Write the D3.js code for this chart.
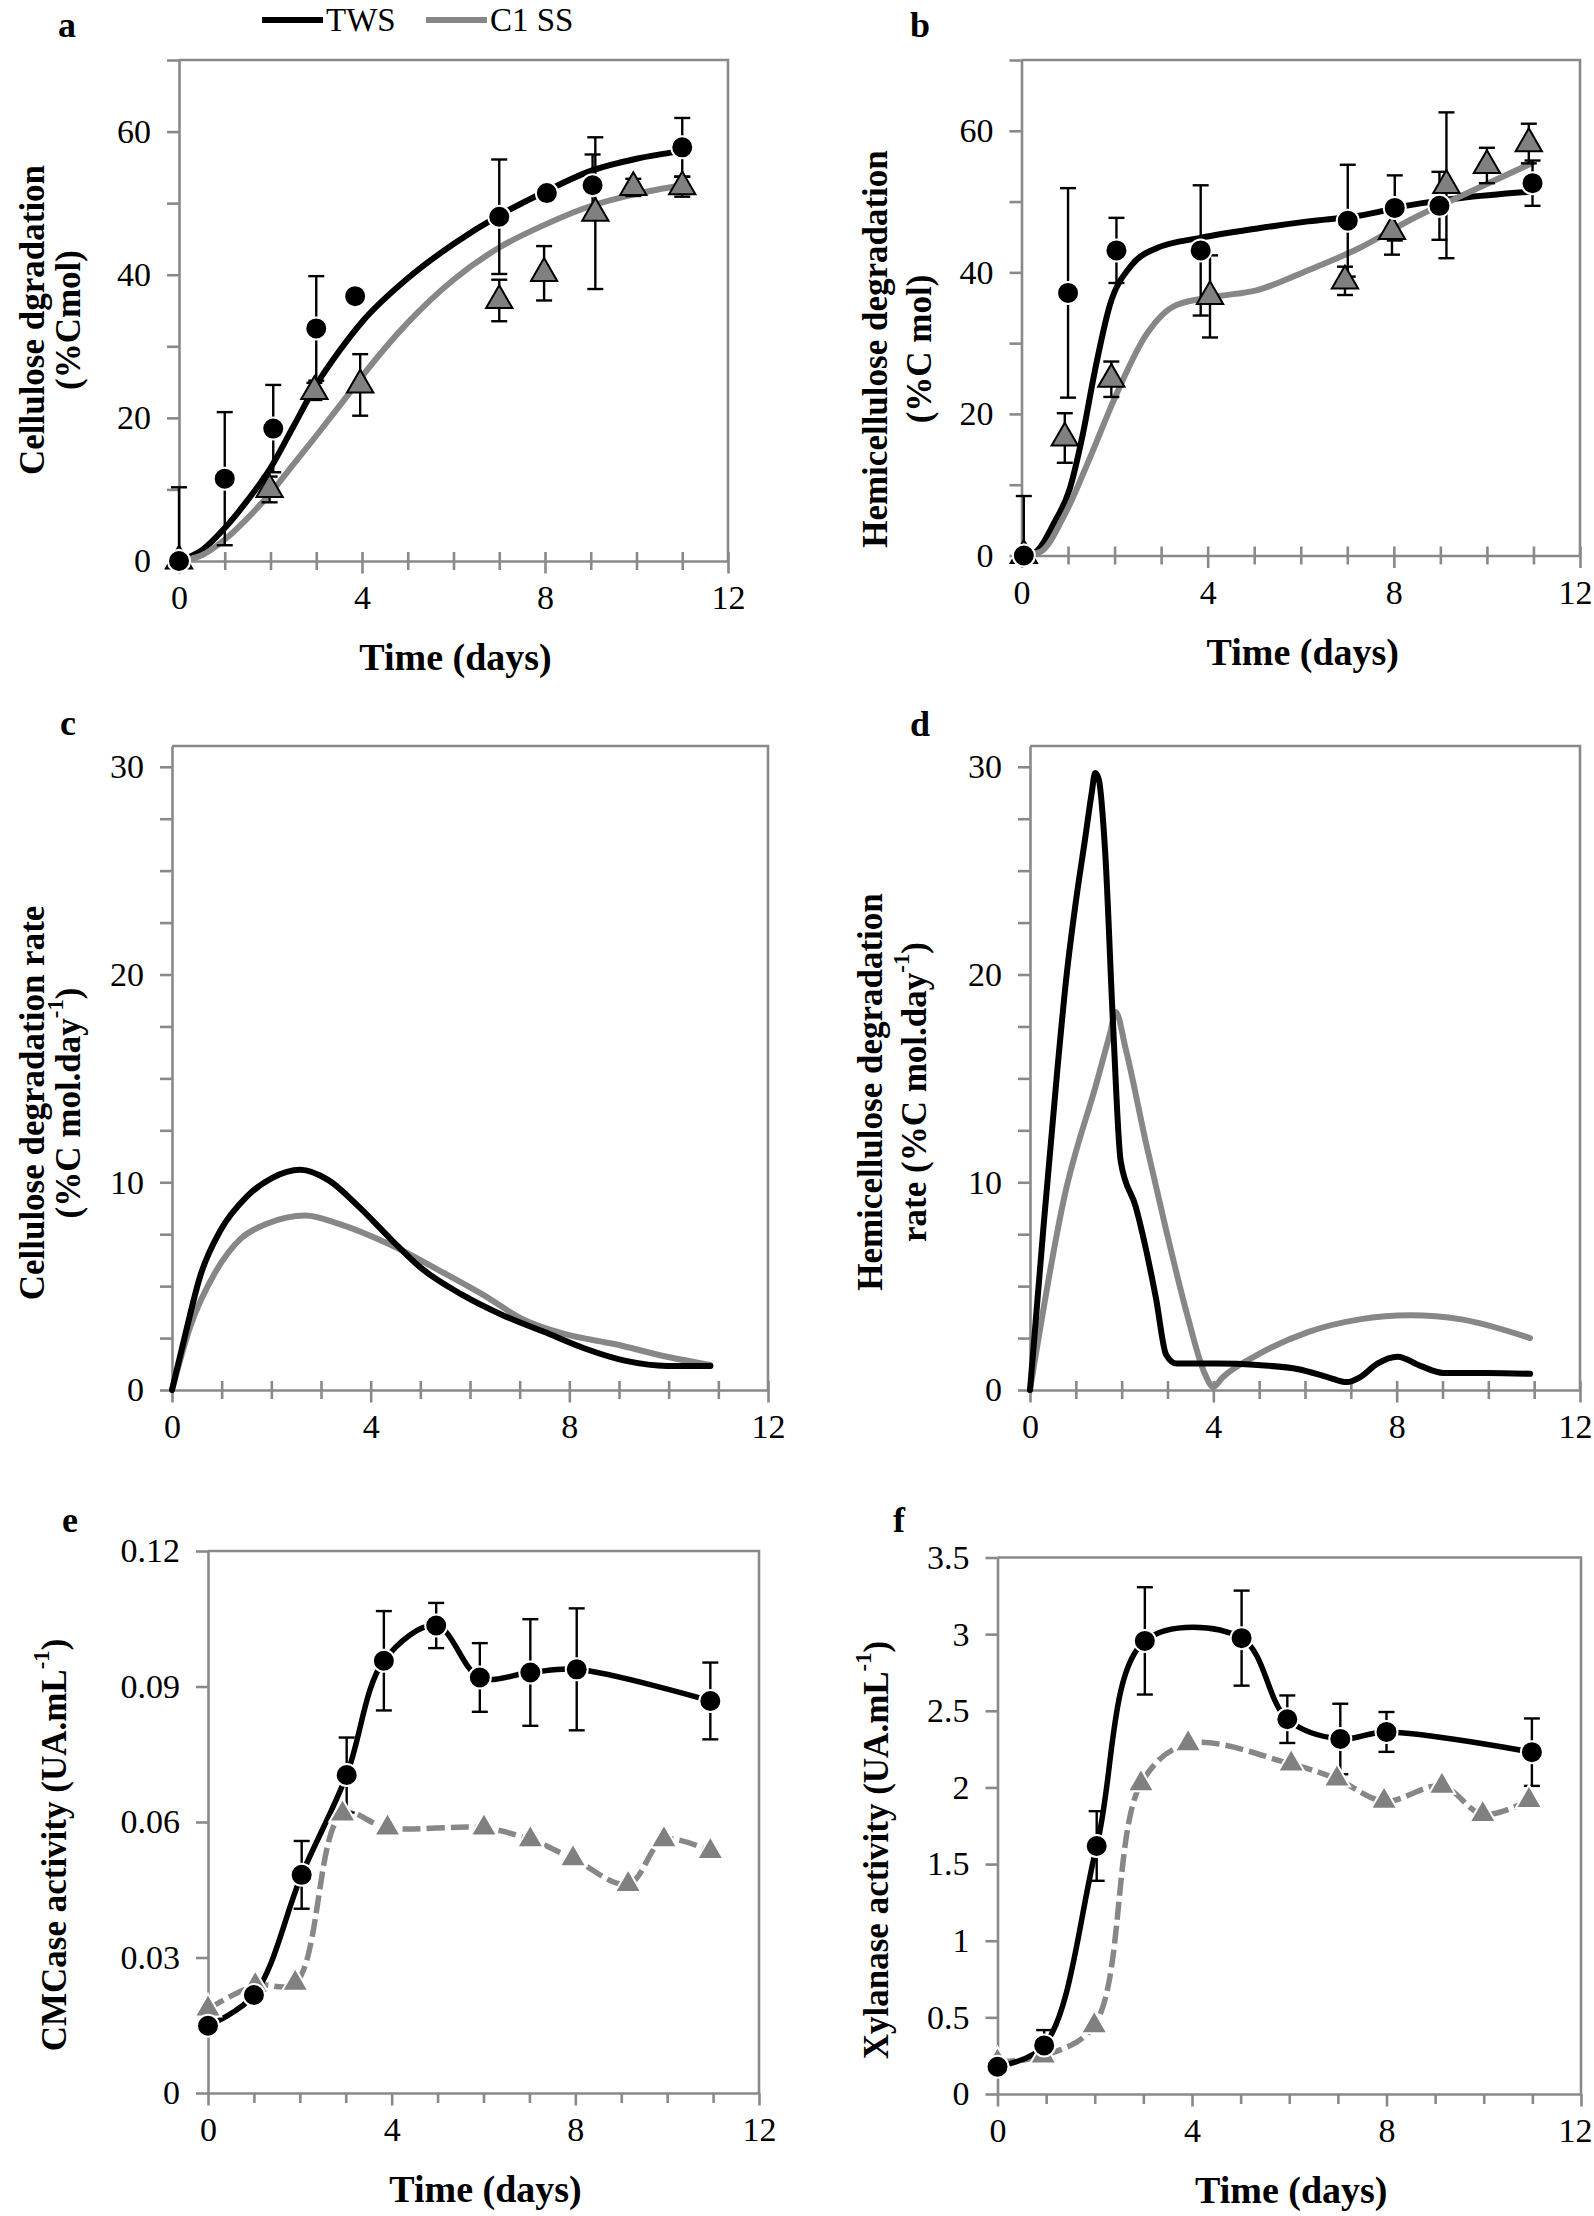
<!DOCTYPE html>
<html><head><meta charset="utf-8">
<script src="https://cdn.jsdelivr.net/npm/d3@7"></script>
<style>
body{margin:0;background:#fff}
svg{display:block}
text{font-family:"Liberation Serif","Times New Roman",serif;fill:#000}
</style>
</head><body>
<svg id="chart" width="1594" height="2216"></svg>
<script>
// ---------- DATA ----------
const seriesNames = ["TWS", "C1 SS"];
const xTicks = [0,1,2,3,4,5,6,7,8,9,10,11,12];
const xTickLabels = [0,4,8,12];

// Panel a: cellulose degradation (%Cmol)
const aTwsX = [0, 1, 2.06, 3, 3.85, 7, 8.04, 9.04, 11];
const aTwsY = [0, 11.5, 18.5, 32.5, 37, 48.1, 51.4, 52.5, 57.8];
const aTwsErr = [10.3, 9.3, 6.1, 7.3, 1.0, 8, 0.6, 4.3, 4.1];
const aC1X = [0, 1.98, 2.96, 3.96, 7, 7.98, 9.1, 9.93, 11];
const aC1Y = [0, 10, 23.7, 24.6, 36.4, 40.2, 48.6, 52.2, 52.3];
const aC1Err = [0, 1.8, 1.2, 4.3, 2.9, 3.8, 10.6, 1.2, 1.4];
const aFitX = [0, 0.5, 1, 1.5, 2, 2.5, 3, 3.5, 4, 5, 6, 7, 8, 9, 10, 11];
const aFitTws = [0, 1.5, 4.6, 8.5, 13, 18.8, 24.6, 29.3, 33.4, 39.5, 44.3, 48.3, 51.6, 54.5, 56.2, 57.3];
const aFitC1 = [0, 0.8, 3, 6, 9.5, 13.5, 17.5, 21.6, 25.8, 33.3, 39.3, 43.8, 47, 49.6, 51.3, 52.5];
const aYTicks = [0,10,20,30,40,50,60,70];
const aYLabels = [0,20,40,60];

// Panel b: hemicellulose degradation (%C mol)
const bTwsX = [0.05, 1, 2.04, 3.85, 7.01, 8.02, 8.98, 10.98];
const bTwsY = [0, 37.1, 43.1, 43.1, 47.3, 49.1, 49.4, 52.6];
const bTwsErr = [8.4, 14.8, 4.6, 9.2, 7.9, 4.6, 4.8, 3.2];
const bC1X = [0.05, 0.93, 1.93, 4.05, 6.95, 7.96, 9.13, 10, 10.9];
const bC1Y = [0, 16.6, 24.9, 36.6, 38.8, 45.8, 52.3, 55.1, 58.2];
const bC1Err = [0, 3.5, 2.5, 5.8, 2, 3.3, 10.3, 2.5, 2.8];
const bFitTwsX = [0, 0.3, 0.7, 1.04, 1.31, 1.58, 1.9, 2.35, 2.9, 3.87, 5.07, 6.16, 7.25, 8.35, 9.44, 10.96];
const bFitTws = [0, 0.5, 4.6, 9.5, 16.9, 26.2, 35.4, 40.9, 43.4, 44.9, 46.2, 47.2, 48, 49.5, 50.5, 51.4];
const bFitC1X = [0, 0.4, 0.93, 1.47, 2.02, 2.67, 3.33, 4.2, 5.07, 6.16, 7.25, 8.35, 9.44, 10.96];
const bFitC1 = [0, 0.5, 5.8, 13.8, 22.5, 31.1, 35.4, 36.6, 37.5, 40.3, 43.4, 47.4, 50.8, 55.4];
const bYTicks = [0,10,20,30,40,50,60,70];
const bYLabels = [0,20,40,60];

// Panel c: cellulose degradation rate
const cTwsX = [0, 0.26, 0.57, 0.98, 1.5, 2.01, 2.58, 3.15, 3.77, 4.39, 5.0, 5.83, 6.66, 7.49, 8.31, 9.14, 9.97, 10.84];
const cTws = [0, 2.6, 5.5, 7.7, 9.3, 10.2, 10.6, 10.1, 8.8, 7.3, 5.9, 4.6, 3.6, 2.8, 2.0, 1.4, 1.16, 1.16];
const cC1X = [0, 0.36, 0.88, 1.39, 1.91, 2.69, 3.36, 4.39, 5.42, 6.25, 7.07, 7.9, 8.93, 9.97, 10.84];
const cC1 = [0, 3.0, 5.7, 7.3, 8.0, 8.4, 8.0, 7.0, 5.7, 4.6, 3.4, 2.7, 2.2, 1.6, 1.2];
const cYTicks = [0,2.5,5,7.5,10,12.5,15,17.5,20,22.5,25,27.5,30];
const cYLabels = [0,10,20,30];

// Panel d: hemicellulose degradation rate
const dTwsX = [0, 0.3, 0.6, 0.8, 1.0, 1.2, 1.35, 1.42, 1.5, 1.64, 1.81, 1.98, 2.31, 2.75, 2.97, 3.2, 4.08, 4.97, 5.86, 6.52, 6.91, 7.19, 7.58, 8.02, 8.52, 9.02, 9.97, 10.91];
const dTws = [0, 8, 15.5, 20, 23.5, 26.5, 28.8, 29.7, 29.4, 25.9, 17.7, 11.0, 8.8, 4.4, 1.7, 1.27, 1.27, 1.2, 1.0, 0.6, 0.38, 0.6, 1.27, 1.6, 1.16, 0.82, 0.82, 0.78];
const dC1X = [0, 0.75, 1.48, 1.75, 1.87, 2.09, 2.53, 2.97, 3.42, 3.81, 4.0, 4.2, 4.97, 6.08, 7.19, 8.3, 9.41, 10.91];
const dC1 = [0, 9.3, 15, 17.2, 18.2, 16.4, 11.9, 7.7, 3.7, 0.8, 0.15, 0.6, 1.7, 2.8, 3.4, 3.6, 3.4, 2.5];
const dYTicks = cYTicks;
const dYLabels = cYLabels;

// Panel e: CMCase activity
const eTwsX = [0, 1.0, 2.04, 3.02, 3.83, 4.97, 5.92, 7.02, 8.03, 10.94];
const eTws = [0.0149, 0.0217, 0.0483, 0.0704, 0.0957, 0.1035, 0.092, 0.0931, 0.0938, 0.0868];
const eTwsErr = [0, 0, 0.0075, 0.0083, 0.011, 0.005, 0.0076, 0.0118, 0.0135, 0.0085];
const eC1X = [0, 1.03, 1.9, 2.93, 3.91, 6.01, 7.02, 7.95, 9.15, 9.93, 10.94];
const eC1 = [0.0186, 0.0238, 0.0243, 0.0618, 0.0587, 0.0587, 0.0561, 0.0519, 0.0462, 0.0561, 0.0535];
const eYTicks = [0, 0.03, 0.06, 0.09, 0.12];
const eYLabels = ["0", "0.03", "0.06", "0.09", "0.12"];

// Panel f: Xylanase activity
const fTwsX = [0, 0.96, 2.04, 3.03, 5.02, 5.96, 7.05, 8.0, 10.99];
const fTws = [0.178, 0.317, 1.618, 2.956, 2.974, 2.445, 2.316, 2.362, 2.23];
const fTwsErr = [0, 0.1, 0.227, 0.35, 0.31, 0.155, 0.23, 0.13, 0.22];
const fC1X = [0, 0.94, 1.99, 2.95, 3.92, 6.04, 6.98, 7.95, 9.14, 9.98, 10.93];
const fC1 = [0.209, 0.249, 0.446, 2.024, 2.285, 2.153, 2.055, 1.91, 2.009, 1.824, 1.916];
const fYTicks = [0, 0.5, 1, 1.5, 2, 2.5, 3, 3.5];
const fYLabels = ["0", "0.5", "1", "1.5", "2", "2.5", "3", "3.5"];

// ---------- DRAWING ----------
const W = 1594;
const svg = d3.select("#chart");
const AX = "#898989", GREY = "#878787", TRI = "#808080";
const TICKFS = 34;
const zip = (xs, ys, es) => xs.map((x, i) => ({x, y: ys[i], e: es ? es[i] : 0}));

const panels = [
  {id:"a", x0:179, x1:728, y0:561, y1:60, ymax:70, yt:aYTicks, yl:aYLabels, cross:true,
   letter:[67,37], title:["Cellulose dgradation","(%Cmol)"], tx:[32,68], ty:320, xtitle:true},
  {id:"b", x0:1021.5, x1:1580, y0:555.5, y1:60, ymax:70, yt:bYTicks, yl:bYLabels, cross:true,
   letter:[920,37], title:["Hemicellulose degradation","(%C mol)"], tx:[875,919], ty:349, xtitle:true},
  {id:"c", x0:172, x1:768, y0:1390, y1:746, ymax:31, yt:cYTicks, yl:cYLabels, cross:true,
   letter:[68,735], title:["Cellulose degradation rate","(%C mol.day^-1)"], tx:[32,68], ty:1103, xtitle:false},
  {id:"d", x0:1030, x1:1580, y0:1390, y1:746, ymax:31, yt:dYTicks, yl:dYLabels, cross:true,
   letter:[920,736], title:["Hemicellulose degradation","rate (%C mol.day^-1)"], tx:[870,914], ty:1092, xtitle:false},
  {id:"e", x0:208, x1:759, y0:2093, y1:1551, ymax:0.12, yt:eYTicks, yl:eYLabels, cross:false,
   letter:[70,1532], title:["CMCase activity (UA.mL^-1)"], tx:[54], ty:1845, xtitle:true},
  {id:"f", x0:997.5, x1:1581, y0:2094, y1:1557.5, ymax:3.5, yt:fYTicks, yl:fYLabels, cross:false,
   letter:[899,1532], title:["Xylanase activity (UA.mL^-1)"], tx:[876], ty:1850, xtitle:true}
];

function addRichText(sel, str, fs) {
  const parts = str.split("^-1");
  parts.forEach((p, i) => {
    if (i > 0) {
      sel.append("tspan").attr("font-size", fs*0.65).attr("dy", -fs*0.38).text("-1");
      sel.append("tspan").attr("dy", fs*0.38).text(p);
    } else sel.append("tspan").text(p);
  });
}

const scales = {};
panels.forEach(p => {
  const x = d3.scaleLinear().domain([0, 12]).range([p.x0, p.x1]);
  const y = d3.scaleLinear().domain([0, p.ymax]).range([p.y0, p.y1]);
  scales[p.id] = {x, y};
  const g = svg.append("g");
  g.append("path").attr("d", `M${p.x0},${p.y1}H${p.x1}V${p.y0}`)
    .attr("fill","none").attr("stroke",AX).attr("stroke-width",2.6);
  const yl = p.yl;
  const ya = d3.axisLeft(y).tickValues(p.yt).tickSize(12).tickSizeOuter(0).tickPadding(16)
    .tickFormat(v => {
      if (typeof yl[0] === "string") { const i = p.yt.indexOf(v); return yl[i]; }
      return yl.includes(v) ? String(v) : "";
    });
  const yg = g.append("g").attr("transform", `translate(${p.x0},0)`).call(ya);
  yg.select(".domain").attr("stroke", AX).attr("stroke-width", 2.6);
  yg.selectAll(".tick line").attr("stroke", AX).attr("stroke-width", 2.6);
  yg.selectAll(".tick text").attr("font-size", TICKFS).attr("font-family", "Liberation Serif").attr("fill","#000");
  const xa = d3.axisBottom(x).tickValues(xTicks).tickSize(10).tickSizeOuter(0).tickPadding(0)
    .tickFormat(v => xTickLabels.includes(v) ? String(v) : "");
  const xg = g.append("g").attr("transform", `translate(0,${p.y0})`).call(xa);
  xg.select(".domain").attr("stroke", AX).attr("stroke-width", 2.6);
  xg.selectAll(".tick line").attr("stroke", AX).attr("stroke-width", 2.6)
    .attr("y1", p.cross ? -9 : 0)
    .attr("y2", d => xTickLabels.includes(d) ? 12.5 : (p.cross ? 9 : 10));
  xg.selectAll(".tick text").attr("font-size", TICKFS).attr("font-family", "Liberation Serif").attr("fill","#000")
    .attr("y", 48).attr("dy", 0)
    .each(function(d) {
      const w = this.getComputedTextLength();
      const cx = x(d);
      if (cx + w/2 > W - 2) d3.select(this).attr("text-anchor","end").attr("x", W - 2 - cx);
    });
  svg.append("text").attr("x", p.letter[0]).attr("y", p.letter[1]).attr("text-anchor","middle")
    .attr("font-size", 36).attr("font-weight","bold").text(p.id);
  p.title.forEach((t, i) => {
    const tt = svg.append("text").attr("transform", `translate(${p.tx[i]},${p.ty}) rotate(-90)`)
      .attr("text-anchor","middle").attr("dominant-baseline","central")
      .attr("font-size", 35).attr("font-weight","bold");
    addRichText(tt, t, 35);
  });
  if (p.xtitle) {
    svg.append("text").attr("x", (p.x0+p.x1)/2 + 2).attr("y", p.y0 + 109).attr("text-anchor","middle")
      .attr("font-size", 38).attr("font-weight","bold").text("Time (days)");
  }
});

function curve(id, xs, ys, color, width, type, dash) {
  const {x, y} = scales[id];
  const line = d3.line().x(d => x(d.x)).y(d => y(d.y)).curve(type);
  svg.append("path").datum(zip(xs, ys)).attr("d", line).attr("fill","none")
    .attr("stroke", color).attr("stroke-width", width).attr("stroke-linecap", dash ? "butt" : "round")
    .attr("stroke-linejoin","round").attr("stroke-dasharray", dash || null);
}
function errorBars(id, xs, ys, es) {
  const {x, y} = scales[id];
  const g = svg.append("g").attr("stroke","#000").attr("stroke-width",2.4);
  zip(xs, ys, es).filter(d => d.e > 0).forEach(d => {
    const top = y(d.y + d.e), lo = Math.max(0, d.y - d.e), bot = y(lo), cx = x(d.x);
    g.append("line").attr("x1",cx).attr("x2",cx).attr("y1",top).attr("y2",bot);
    g.append("line").attr("x1",cx-8).attr("x2",cx+8).attr("y1",top).attr("y2",top);
    if (d.y - d.e > 0) g.append("line").attr("x1",cx-8).attr("x2",cx+8).attr("y1",bot).attr("y2",bot);
  });
}
function circles(id, xs, ys) {
  const {x, y} = scales[id];
  svg.append("g").selectAll("circle").data(zip(xs, ys)).join("circle")
    .attr("cx", d => x(d.x)).attr("cy", d => y(d.y)).attr("r", 11)
    .attr("fill","#000").attr("stroke","#fff").attr("stroke-width",2);
}
function triangles(id, xs, ys, stroke) {
  const {x, y} = scales[id];
  const sym = d3.symbol(d3.symbolTriangle, 300);
  svg.append("g").selectAll("path").data(zip(xs, ys)).join("path")
    .attr("d", sym).attr("transform", d => `translate(${x(d.x)},${y(d.y)})`)
    .attr("fill", TRI).attr("stroke", stroke).attr("stroke-width", 2);
}

const mono = d3.curveMonotoneX;
const cr = d3.curveCatmullRom.alpha(0.5);

curve("a", aFitX, aFitTws, "#000", 6, mono);
curve("a", aFitX, aFitC1, GREY, 6, mono);
errorBars("a", aC1X, aC1Y, aC1Err);
errorBars("a", aTwsX, aTwsY, aTwsErr);
triangles("a", aC1X, aC1Y, "#000");
circles("a", aTwsX, aTwsY);

curve("b", bFitTwsX, bFitTws, "#000", 6, mono);
curve("b", bFitC1X, bFitC1, GREY, 6, mono);
errorBars("b", bC1X, bC1Y, bC1Err);
errorBars("b", bTwsX, bTwsY, bTwsErr);
triangles("b", bC1X, bC1Y, "#000");
circles("b", bTwsX, bTwsY);

curve("c", cC1X, cC1, GREY, 6, mono);
curve("c", cTwsX, cTws, "#000", 6, mono);

curve("d", dC1X, dC1, GREY, 6, mono);
curve("d", dTwsX, dTws, "#000", 6, mono);

curve("e", eC1X, eC1, GREY, 5.5, cr, "18,6");
curve("e", eTwsX, eTws, "#000", 5.5, cr);
errorBars("e", eTwsX, eTws, eTwsErr);
triangles("e", eC1X, eC1, "#fff");
circles("e", eTwsX, eTws);

curve("f", fC1X, fC1, GREY, 5.5, cr, "18,6");
curve("f", fTwsX, fTws, "#000", 5.5, cr);
errorBars("f", fTwsX, fTws, fTwsErr);
triangles("f", fC1X, fC1, "#fff");
circles("f", fTwsX, fTws);

// legend
const leg = svg.append("g");
leg.append("line").attr("x1",262).attr("x2",323).attr("y1",20).attr("y2",20).attr("stroke","#000").attr("stroke-width",6);
leg.append("text").attr("x",326).attr("y",31).attr("font-size",33).text(seriesNames[0]);
leg.append("line").attr("x1",426).attr("x2",487).attr("y1",20).attr("y2",20).attr("stroke",GREY).attr("stroke-width",6);
leg.append("text").attr("x",490).attr("y",31).attr("font-size",33).text(seriesNames[1]);
</script>
</body></html>
